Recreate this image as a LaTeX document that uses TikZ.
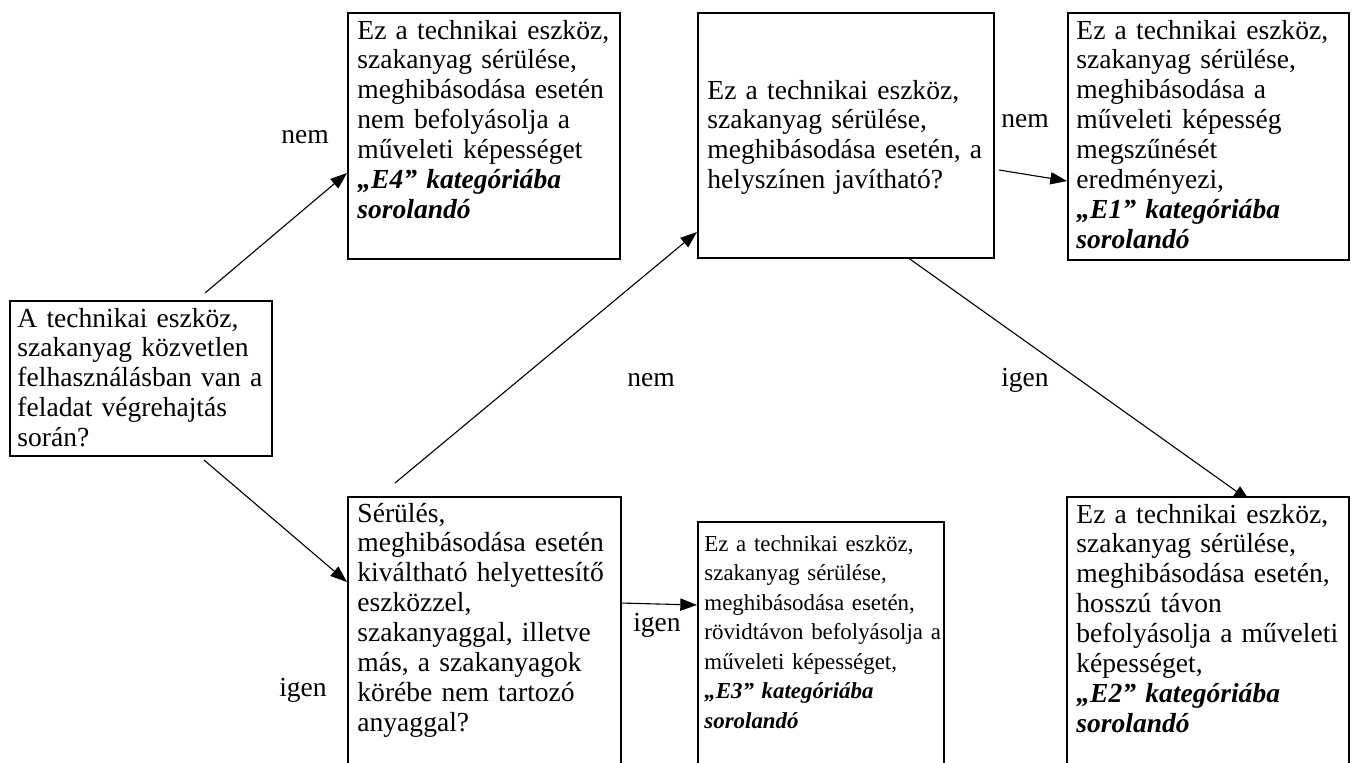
\documentclass[tikz,border=0pt]{standalone}
\usepackage{fontspec}
\setmainfont{Liberation Serif}
\usetikzlibrary{arrows.meta}
\pgfdeclarelayer{bg}
\pgfsetlayers{bg,main}

\tikzset{
  box/.style={draw, fill=white, line width=0.9pt, anchor=north west, inner sep=0pt},
  txt/.style={anchor=base west, inner sep=0pt, text width=135pt, align=left,
              font=\fontsize{12.4}{13.45}\selectfont},
  small/.style={font=\fontsize{10.3}{13.3}\selectfont},
  lbl/.style={inner sep=0pt, font=\fontsize{12.4}{13.45}\selectfont},
  arr/.style={line width=0.5pt, -{Triangle[length=7.5pt,width=5.5pt]}}
}
\newcommand\cat[1]{\textbf{\textit{#1}}}

\begin{document}
\begin{tikzpicture}[x=0.45pt, y=-0.45pt]
\useasboundingbox (0,0) rectangle (1354,762);
\clip (0,0) rectangle (1354,762);

% boxes
\node[box, minimum width=262*0.45pt, minimum height=155*0.45pt] (A) at (9,300) {};
\node[box, minimum width=272*0.45pt, minimum height=246*0.45pt] (E4) at (347,12) {};
\node[box, minimum width=296*0.45pt, minimum height=245*0.45pt] (Q2) at (697,12) {};
\node[box, minimum width=281*0.45pt, minimum height=247*0.45pt] (E1) at (1067,12) {};
\node[box, minimum width=273*0.45pt, minimum height=300*0.45pt] (Q3) at (347,496) {};
\node[box, minimum width=246*0.45pt, minimum height=300*0.45pt] (E3) at (697,521) {};
\node[box, minimum width=282*0.45pt, minimum height=300*0.45pt] (E2) at (1066,496) {};

% box texts
\node[txt] (tA) at (17,327) {A technikai eszköz,\\ szakanyag közvetlen\\ felhasználásban van a\\ feladat végrehajtás\\ során?};
\node[txt] (tE4) at (357,39) {Ez a technikai eszköz,\\ szakanyag sérülése,\\ meghibásodása esetén\\ nem befolyásolja a\\ műveleti képességet\\ \cat{„E4” kategóriába}\\ \cat{sorolandó}};
\node[txt] (tQ2) at (707,99) {Ez a technikai eszköz,\\ szakanyag sérülése,\\ meghibásodása esetén, a\\ helyszínen javítható?};
\node[txt] (tE1) at (1076,39) {Ez a technikai eszköz,\\ szakanyag sérülése,\\ meghibásodása a\\ műveleti képesség\\ megszűnését\\ eredményezi,\\ \cat{„E1” kategóriába}\\ \cat{sorolandó}};
\node[txt] (tQ3) at (357,522) {Sérülés,\\ meghibásodása esetén\\ kiváltható helyettesítő\\ eszközzel,\\ szakanyaggal, illetve\\ más, a szakanyagok\\ körébe nem tartozó\\ anyaggal?};
\node[txt, small] (tE3) at (704,551) {Ez a technikai eszköz,\\ szakanyag sérülése,\\ meghibásodása esetén,\\ rövidtávon befolyásolja a\\ műveleti képességet,\\ \cat{„E3” kategóriába}\\ \cat{sorolandó}};
\node[txt] (tE2) at (1076,523) {Ez a technikai eszköz,\\ szakanyag sérülése,\\ meghibásodása esetén,\\ hosszú távon\\ befolyásolja a műveleti\\ képességet,\\ \cat{„E2” kategóriába}\\ \cat{sorolandó}};

% branch labels
\node[lbl] (l1) at (305,137) {nem};
\node[lbl] (l2) at (303,690) {igen};
\node[lbl] (l3) at (651,380) {nem};
\node[lbl] (l4) at (1025,380) {igen};
\node[lbl] (l5) at (1025,121) {nem};
\node[lbl] (l6) at (657,625) {igen};

% connectors, drawn behind the boxes
\begin{pgfonlayer}{bg}
\draw[arr] ([shift={(196,-7)}]A.north west) -- ([shift={(0,161)}]E4.north west);
\draw[arr] ([shift={(195,160)}]A.north west) -- ([shift={(0,86)}]Q3.north west);
\draw[arr] ([shift={(48,-13)}]Q3.north west) -- ([shift={(0,220)}]Q2.north west);
\draw[arr] ([shift={(210,245)}]Q2.north west) -- ([shift={(184,5)}]E2.north west);
\draw[arr] ([shift={(302,158)}]Q2.north west) -- ([shift={(0,169)}]E1.north west);
\draw[arr] ([shift={(273,107)}]Q3.north west) -- ([shift={(0,84)}]E3.north west);
\end{pgfonlayer}
\end{tikzpicture}
\end{document}
